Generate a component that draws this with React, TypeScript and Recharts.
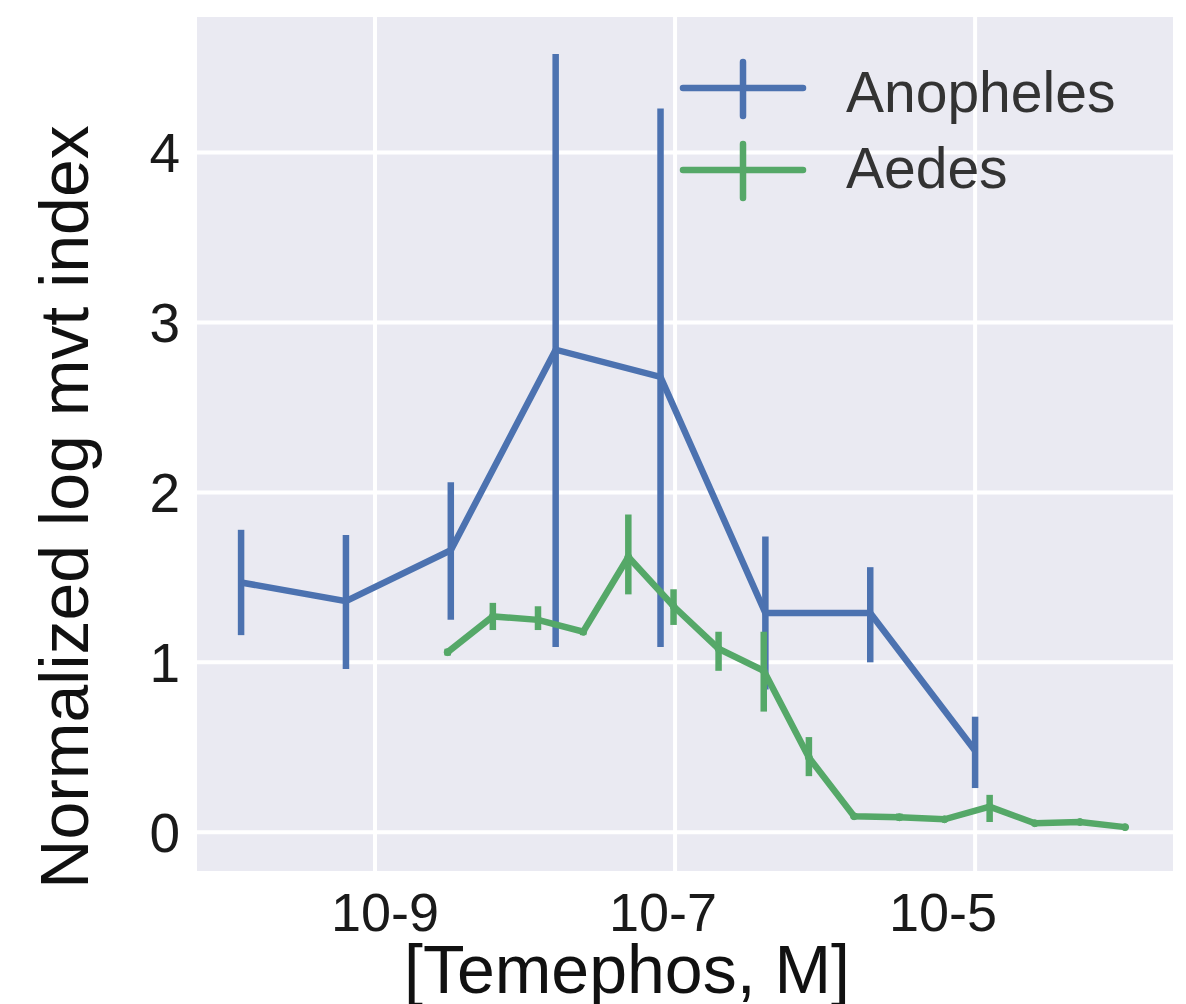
import { ComposedChart, Line, XAxis, YAxis, CartesianGrid, ErrorBar } from 'recharts'

// Anopheles: 5-fold dilution series
const anophelesConc = [1.28e-10, 6.4e-10, 3.2e-9, 1.6e-8, 8e-8, 4e-7, 2e-6, 1e-5]
const anophelesMean = [1.47, 1.36, 1.66, 2.84, 2.68, 1.29, 1.29, 0.48]
const anophelesLow = [1.16, 0.96, 1.25, 1.09, 1.09, 0.84, 1.0, 0.26]
const anophelesHigh = [1.78, 1.75, 2.06, 4.58, 4.26, 1.74, 1.56, 0.68]

// Aedes: 2-fold dilution series
const aedesConc = [
  3.05e-9, 6.1e-9, 1.22e-8, 2.44e-8, 4.88e-8, 9.77e-8, 1.95e-7, 3.9e-7,
  7.8e-7, 1.56e-6, 3.125e-6, 6.25e-6, 1.25e-5, 2.5e-5, 5e-5, 1e-4,
]
const aedesMean = [1.06, 1.27, 1.25, 1.18, 1.62, 1.33, 1.08, 0.95, 0.44, 0.094, 0.088, 0.076, 0.15, 0.053, 0.06, 0.03]
const aedesLow = [1.04, 1.19, 1.19, 1.16, 1.4, 1.22, 0.95, 0.71, 0.33, 0.08, 0.07, 0.06, 0.06, 0.045, 0.05, 0.025]
const aedesHigh = [1.08, 1.35, 1.33, 1.2, 1.87, 1.43, 1.18, 1.18, 0.56, 0.11, 0.11, 0.09, 0.22, 0.06, 0.07, 0.035]

const xTicks = [1e-9, 1e-7, 1e-5]
const xTickLabels = ['10-9', '10-7', '10-5']
const yTicks = [0, 1, 2, 3, 4]

const BLUE = '#4C72B0'
const GREEN = '#55A868'
const FONT = '"Liberation Sans", Arial, sans-serif'

const build = (xs: number[], ys: number[], lo: number[], hi: number[]) =>
  xs.map((x, i) => ({ x, y: ys[i], err: [ys[i] - lo[i], hi[i] - ys[i]] }))

const anopheles = build(anophelesConc, anophelesMean, anophelesLow, anophelesHigh)
const aedes = build(aedesConc, aedesMean, aedesLow, aedesHigh)

// the labels in the source sit a little off their gridlines
const labelNudge = [10, -12, -32]

function XTick(props: any) {
  const { x, y, payload, index } = props
  return (
    <text x={x + (labelNudge[index] ?? 0)} y={y} dy="0.71em" textAnchor="middle" fontSize={54} fill="#1a1a1a" fontFamily={FONT}>
      {xTickLabels[index]}
    </text>
  )
}

export default function App() {
  return (
    <div style={{ position: 'absolute', left: 0, top: 0, width: 1186, height: 1004, background: '#fff', fontFamily: FONT }}>
      <ComposedChart width={1186} height={1004} margin={{ top: 15, right: 11, bottom: 0, left: 0 }}>
        <CartesianGrid fill="#EAEAF2" stroke="#fff" strokeWidth={4} />
        <XAxis
          type="number"
          dataKey="x"
          scale="log"
          domain={[6.31e-11, 2.15e-4]}
          allowDataOverflow
          ticks={xTicks}
          height={131}
          axisLine={false}
          tickLine={false}
          tickSize={0}
          tickMargin={20}
          tick={<XTick />}
        />
        <YAxis
          type="number"
          domain={[-0.24, 4.81]}
          allowDataOverflow
          ticks={yTicks}
          width={195}
          axisLine={false}
          tickLine={false}
          tickSize={0}
          tickMargin={15}
          tick={{ fontSize: 55, fill: '#1a1a1a', fontFamily: FONT }}
        />
        <Line
          data={anopheles}
          dataKey="y"
          stroke={BLUE}
          strokeWidth={6.5}
          dot={false}
          activeDot={false}
          isAnimationActive={false}
        >
          <ErrorBar dataKey="err" direction="y" width={0} stroke={BLUE} strokeWidth={6.5} isAnimationActive={false} />
        </Line>
        <Line
          data={aedes}
          dataKey="y"
          stroke={GREEN}
          strokeWidth={6.5}
          dot={{ r: 3.5, fill: GREEN, stroke: GREEN, strokeWidth: 1 }}
          activeDot={false}
          isAnimationActive={false}
        >
          <ErrorBar dataKey="err" direction="y" width={0} stroke={GREEN} strokeWidth={6.5} isAnimationActive={false} />
        </Line>
      </ComposedChart>

      <svg width={1186} height={1004} style={{ position: 'absolute', left: 0, top: 0, pointerEvents: 'none' }}>
        {/* legend */}
        <line x1={683} x2={803} y1={88} y2={88} stroke={BLUE} strokeWidth={6.5} strokeLinecap="round" />
        <line x1={743} x2={743} y1={62} y2={116} stroke={BLUE} strokeWidth={6.5} strokeLinecap="round" />
        <text x={846} y={112} fontSize={57} fill="#333" fontFamily={FONT}>Anopheles</text>
        <line x1={683} x2={803} y1={170} y2={170} stroke={GREEN} strokeWidth={6.5} strokeLinecap="round" />
        <line x1={743} x2={743} y1={144} y2={198} stroke={GREEN} strokeWidth={6.5} strokeLinecap="round" />
        <text x={846} y={188} fontSize={57} fill="#333" fontFamily={FONT}>Aedes</text>

        {/* axis titles */}
        <text x={627} y={993} fontSize={68} textAnchor="middle" fill="#111" fontFamily={FONT}>[Temephos, M]</text>
        <text x={88} y={507} fontSize={68} textAnchor="middle" fill="#111" fontFamily={FONT} transform="rotate(-90 88 507)">
          Normalized log mvt index
        </text>
      </svg>
    </div>
  )
}
